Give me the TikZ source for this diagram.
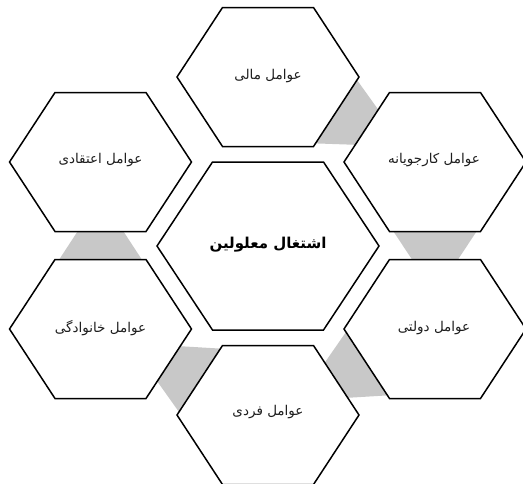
\documentclass[tikz,border=0pt]{standalone}
\usepackage{fontspec}
\TeXXeTstate=1
\newfontfamily\arabicfont[Script=Arabic]{DejaVu Sans}
\definecolor{conngray}{RGB}{200,200,200}
\definecolor{txtgray}{RGB}{30,30,30}
\newcommand{\myhex}[4]{%
  \draw[hexstyle] ({#1-#3},#2) -- ({#1-#3/2},{#2-#4}) -- ({#1+#3/2},{#2-#4})
    -- ({#1+#3},#2) -- ({#1+#3/2},{#2+#4}) -- ({#1-#3/2},{#2+#4}) -- cycle;}
\tikzset{
  hexstyle/.style={draw=black, fill=white, line width=1.5pt, line join=miter},
  connstyle/.style={fill=conngray, draw=none},
  outerlabel/.style={font=\arabicfont\fontsize{13.5}{16}\selectfont, text=txtgray, inner sep=0pt},
  centerlabel/.style={font=\arabicfont\bfseries\fontsize{15}{18}\selectfont, text=black, inner sep=0pt}
}
\begin{document}
\begin{tikzpicture}[x=1pt,y=-1pt]
\useasboundingbox (0,0) rectangle (523,483);
\clip (0,0) rectangle (523,483);
% grey connectors
\fill[connstyle] (357,80) -- (378.3,109.7) -- (355.2,144.8) -- (315.5,143.4) -- cycle;
\fill[connstyle] (393.5,231.5) -- (476.5,231.5) -- (458,259.5) -- (412,259.5) -- cycle;
\fill[connstyle] (346,332) -- (387.5,395.4) -- (347.8,397.8) -- (324.7,362.7) -- cycle;
\fill[connstyle] (220.5,348.6) -- (179,412) -- (157.2,381.3) -- (180.3,346.2) -- cycle;
\fill[connstyle] (77.5,231.5) -- (123.5,231.5) -- (141.8,259.5) -- (59.2,259.5) -- cycle;
% hexagons
\myhex{268}{77}{91}{69.5}
\myhex{100.5}{162}{91}{69.5}
\myhex{435}{162}{91}{69.5}
\myhex{100.5}{329}{91}{69.5}
\myhex{435}{329}{91}{69.5}
\myhex{268}{415}{91}{69.5}
\myhex{268}{246}{111}{84}
% labels
\node[outerlabel] (mali) at (268,76) {\beginR عوامل مالی\endR};
\node[outerlabel] (etegadi) at (100.5,160) {\beginR عوامل اعتقادی\endR};
\node[outerlabel] (karjooyane) at (434,160) {\beginR عوامل کارجویانه\endR};
\node[outerlabel] (khanevadegi) at (100.5,328) {\beginR عوامل خانوادگی\endR};
\node[outerlabel] (dolati) at (434,328) {\beginR عوامل دولتی\endR};
\node[outerlabel] (fardi) at (268,412) {\beginR عوامل فردی\endR};
\node[centerlabel] (markaz) at (268,245) {\beginR اشتغال معلولین\endR};
\end{tikzpicture}
\end{document}
